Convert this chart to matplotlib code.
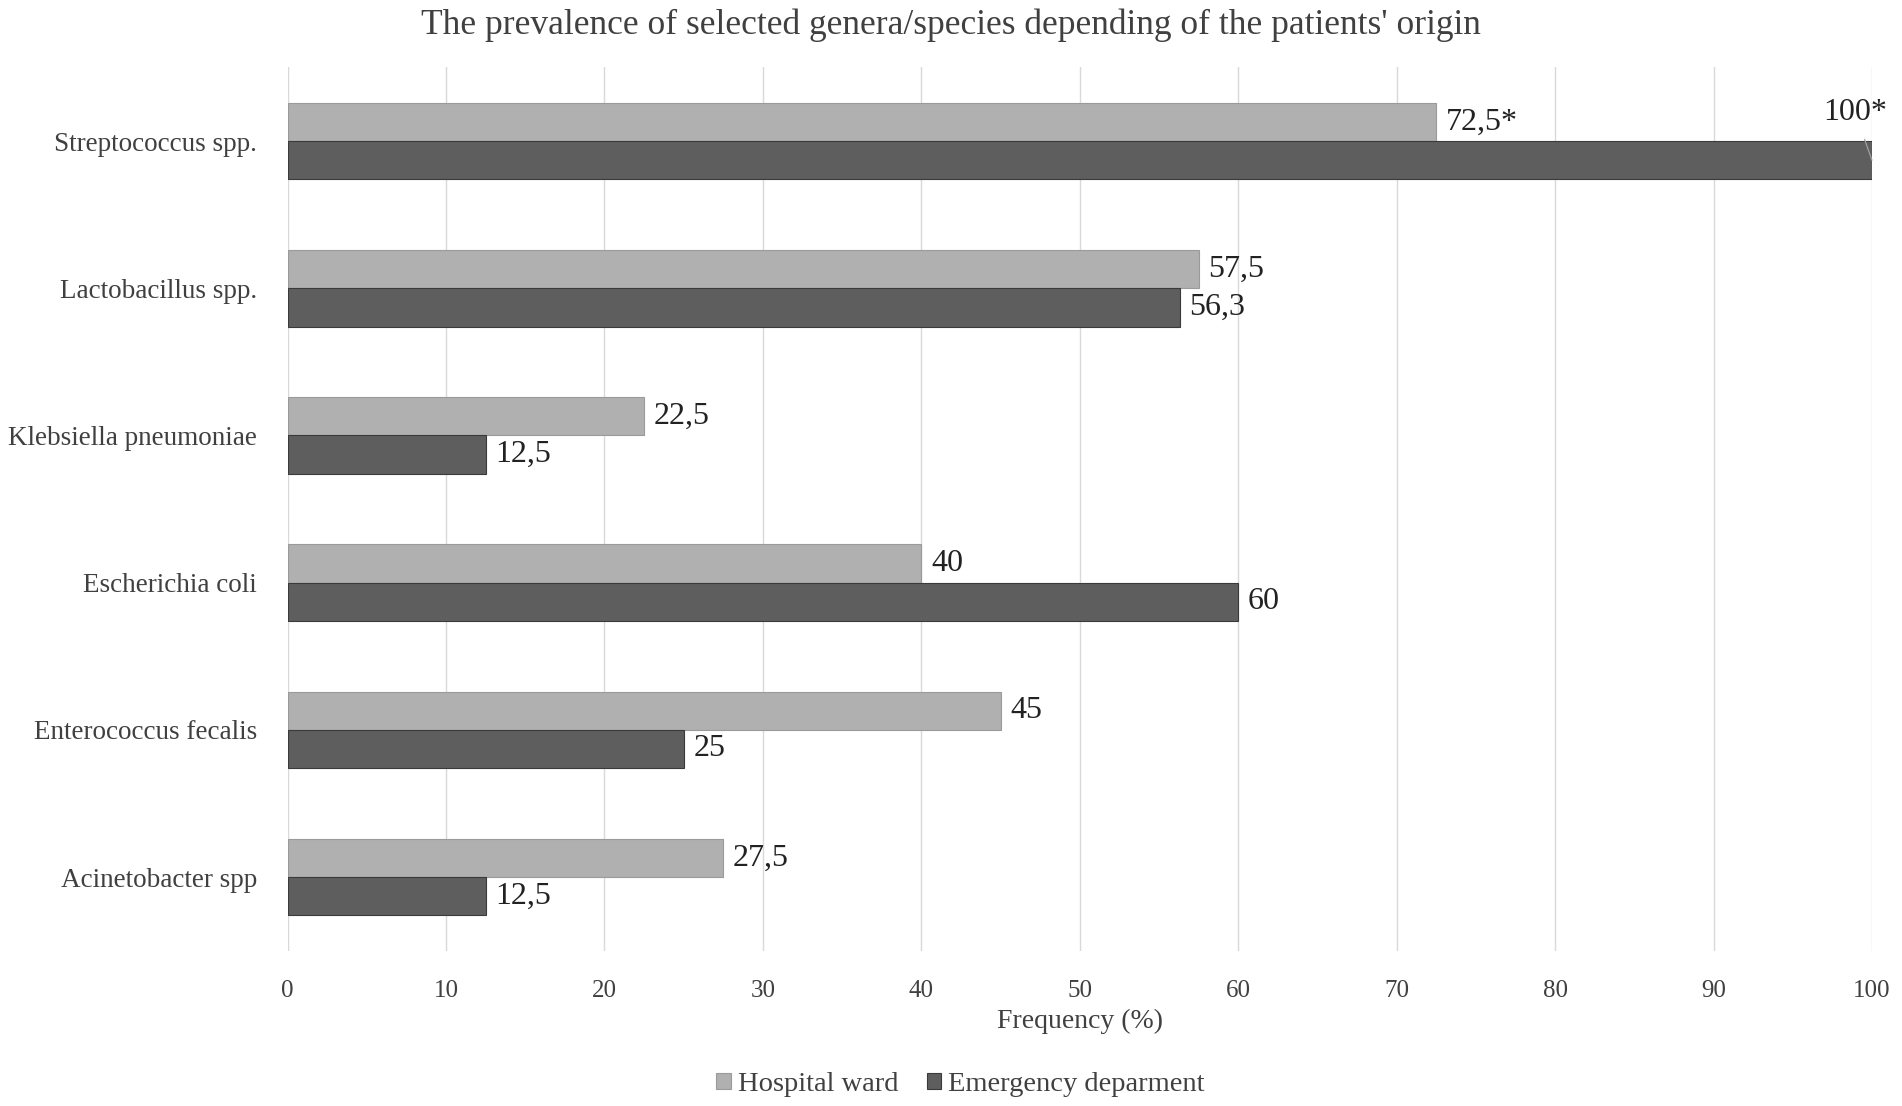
import numpy as np
import matplotlib.pyplot as plt

# data
categories = ['Streptococcus spp.', 'Lactobacillus spp.', 'Klebsiella pneumoniae',
              'Escherichia coli', 'Enterococcus fecalis', 'Acinetobacter spp']
hospital = [72.5, 57.5, 22.5, 40, 45, 27.5]
emergency = [100, 56.3, 12.5, 60, 25, 12.5]
hospital_labels = ['72,5*', '57,5', '22,5', '40', '45', '27,5']
emergency_labels = ['100*', '56,3', '12,5', '60', '25', '12,5']
xticks = [0, 10, 20, 30, 40, 50, 60, 70, 80, 90, 100]

plt.rcParams['font.family'] = ['Liberation Serif', 'DejaVu Serif']
txt = '#404040'
light = '#B0B0B0'
dark = '#5E5E5E'

fig = plt.figure(figsize=(19.02, 11.06), dpi=100)
ax = fig.add_axes([0.1512, 0.1405, 0.8330, 0.7985])

y = np.arange(len(categories))
h = 0.26
ax.barh(y - h / 2, hospital, height=h, color=light, edgecolor='#9A9A9A', linewidth=0.8,
        label='Hospital ward', zorder=3)
ax.barh(y + h / 2, emergency, height=h, color=dark, edgecolor='#3A3A3A', linewidth=0.8,
        label='Emergency deparment', zorder=3)

# value labels
for i in range(len(categories)):
    ax.annotate(hospital_labels[i], (hospital[i], y[i] - h / 2), xytext=(7, 0),
                textcoords='offset points', va='center', ha='left', fontsize=23, color='#222222')
    if emergency[i] >= 100:
        # label sits above the bar end with a short leader line
        ax.annotate(emergency_labels[i], (emergency[i], y[i] + h / 2), xytext=(-12, 34),
                    textcoords='offset points', va='center', ha='center', fontsize=23,
                    color='#222222',
                    arrowprops=dict(arrowstyle='-', color='#A0A0A0', lw=0.9,
                                    shrinkA=7, shrinkB=0))
    else:
        ax.annotate(emergency_labels[i], (emergency[i], y[i] + h / 2), xytext=(7, 0),
                    textcoords='offset points', va='center', ha='left', fontsize=23,
                    color='#222222')

ax.set_xlim(0, 100)
ax.set_ylim(len(categories) - 0.5, -0.5)
ax.set_xticks(xticks)
ax.set_yticks(y)
ax.set_yticklabels(categories, fontsize=19.5, color=txt)
ax.tick_params(axis='x', labelsize=18, labelcolor=txt, length=0, pad=21)
ax.tick_params(axis='y', length=0, pad=22)
ax.grid(axis='x', color='#D9D9D9', linewidth=1.0, zorder=0)
for s in ax.spines.values():
    s.set_visible(False)

ax.set_xlabel('Frequency (%)', fontsize=20, color=txt, labelpad=5)
fig.suptitle("The prevalence of selected genera/species depending of the patients' origin",
             fontsize=25.5, color=txt, y=0.992)

fig.legend(loc='center', bbox_to_anchor=(0.505, 0.019), ncol=2, frameon=False,
           fontsize=20.5, handlelength=0.5, handleheight=0.5, handletextpad=0.25,
           columnspacing=1.0, labelcolor=txt)

fig.savefig('out.png', dpi=100)
